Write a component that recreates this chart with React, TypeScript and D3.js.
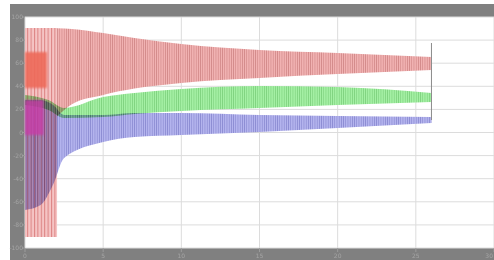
import React from 'react';
import * as d3 from 'd3';

const W = 494;
const H = 260;

const xTicks = [0, 5, 10, 15, 20, 25, 30];
const yTicks = [100, 80, 60, 40, 20, 0, -20, -40, -60, -80, -100];

// early red stripes (full swing)
const redEarlyT = [0, 2.05];
const redEarlyHi = [90.5, 90.5];
const redEarlyLo = [-90.5, -90.5];

// red signal envelope
const redT = [2.05, 3, 5, 7, 10, 15, 20, 26];
const redHi = [90.3, 89.6, 86.1, 81.8, 76.6, 71.4, 68.8, 65.4];
const redLo = [14.0, 24.5, 32.5, 38.0, 42.9, 47.2, 50.6, 54.1];

// dense red core at start
const redCoreT = [0, 1.4];
const redCoreHi = [69.7, 69.7];
const redCoreLo = [38.5, 38.5];

// green signal envelope
const greenT = [0, 1.5, 2.5, 5, 7, 10, 15, 20, 26];
const greenHi = [32.5, 28.1, 21.2, 30.7, 34.2, 37.7, 40.3, 39.4, 34.2];
const greenLo = [23.8, 19.5, 12.6, 13.4, 16.0, 18.6, 21.2, 23.8, 26.4];

// blue signal envelope
const blueT = [0, 1, 1.8, 2.5, 5, 7, 10, 15, 20, 26];
const blueHi = [28.1, 28.1, 23.8, 15.2, 15.2, 16.9, 16.9, 15.2, 14.3, 13.4];
const blueLo = [-67.1, -62.8, -45.0, -22.0, -8.2, -3.9, -2.2, 0.4, 3.9, 8.2];

// dense magenta core at start
const blueCoreT = [0, 1.2];
const blueCoreHi = [28.1, 28.1];
const blueCoreLo = [-2.2, -2.2];

// final step line
const endT = [26];
const endHi = [77.5];
const endLo = [10.8];

const PL = 25, PR = 494, PT = 17, PB = 248;

export default function App() {
  const x = d3.scaleLinear().domain([0, 30]).range([PL, PR]);
  const y = d3.scaleLinear().domain([-100, 100]).range([PB, PT]);

  const band = (T: number[], hi: number[], lo: number[], curve: d3.CurveFactory = d3.curveMonotoneX) =>
    d3
      .area<number>()
      .x((_, i) => x(T[i]))
      .y0((_, i) => y(lo[i]))
      .y1((_, i) => y(hi[i]))
      .curve(curve)(T) || '';

  const blend: React.CSSProperties = { mixBlendMode: 'multiply' };

  return (
    <div style={{ position: 'fixed', left: 0, top: 0 }}>
      <svg width={W} height={H} style={{ display: 'block' }}>
        <defs>
          <pattern id="pRedEarly" width={3.4} height={4} patternUnits="userSpaceOnUse">
            <rect width={3.4} height={4} fill="#f5c4c4" />
            <rect width={1} height={4} fill="#dc8282" />
          </pattern>
          <pattern id="pRed" width={2.2} height={4} patternUnits="userSpaceOnUse">
            <rect width={2.2} height={4} fill="#f1b2b2" />
            <rect width={0.7} height={4} fill="#d08686" />
          </pattern>
          <pattern id="pGreen" width={2.2} height={4} patternUnits="userSpaceOnUse">
            <rect width={2.2} height={4} fill="#a4f0a4" />
            <rect width={0.7} height={4} fill="#7cd07c" />
          </pattern>
          <pattern id="pBlue" width={2.2} height={4} patternUnits="userSpaceOnUse">
            <rect width={2.2} height={4} fill="#b4b4ee" />
            <rect width={0.7} height={4} fill="#8888d0" />
          </pattern>
          <filter id="soft">
            <feGaussianBlur stdDeviation="0.35" />
          </filter>
          <filter id="softer">
            <feGaussianBlur stdDeviation="0.9" />
          </filter>
        </defs>
        <rect x={0} y={0} width={W} height={H} fill="#ffffff" />
        <rect x={10} y={4} width={W - 10} height={H - 4} fill="#808080" />
        <rect x={PL} y={PT} width={PR - PL} height={PB - PT} fill="#ffffff" />

        {xTicks.map((t) => (
          <line key={'gx' + t} x1={x(t)} x2={x(t)} y1={PT} y2={PB} stroke="#dcdcdc" strokeWidth={1} />
        ))}
        {yTicks.map((t) => (
          <line key={'gy' + t} x1={PL} x2={PR} y1={y(t)} y2={y(t)} stroke="#dcdcdc" strokeWidth={1} />
        ))}

        <g filter="url(#soft)">
          <path d={band(redEarlyT, redEarlyHi, redEarlyLo, d3.curveLinear)} fill="url(#pRedEarly)" />
          <path d={band(redT, redHi, redLo)} fill="url(#pRed)" />
          <path d={band(greenT, greenHi, greenLo)} fill="url(#pGreen)" style={blend} />
          <path d={band(blueT, blueHi, blueLo)} fill="url(#pBlue)" style={blend} />
          {endT.map((t, i) => (
            <line key={'end' + i} x1={x(t)} x2={x(t)} y1={y(endHi[i])} y2={y(endLo[i])} stroke="#8a8a8a" strokeWidth={1} />
          ))}
        </g>
        <g filter="url(#softer)">
          <path d={band(redCoreT, redCoreHi, redCoreLo, d3.curveLinear)} fill="#ee6a58" opacity={0.9} style={blend} />
          <path d={band(blueCoreT, blueCoreHi, blueCoreLo, d3.curveLinear)} fill="#c83aa8" opacity={0.8} style={blend} />
        </g>

        {xTicks.map((t) => (
          <line key={'tx' + t} x1={x(t)} x2={x(t)} y1={PB} y2={PB + 4} stroke="#9c9c9c" strokeWidth={1} />
        ))}
        {yTicks.map((t) => (
          <line key={'ty' + t} x1={PL - 3} x2={PL} y1={y(t)} y2={y(t)} stroke="#9c9c9c" strokeWidth={1} />
        ))}
        <g filter="url(#soft)" fontFamily="DejaVu Sans" fontSize={6} fill="#a4a4a4">
          {xTicks.map((t, i) => (
            <text
              key={'lx' + t}
              x={i === xTicks.length - 1 ? x(t) - 1 : x(t)}
              y={PB + 10}
              textAnchor={i === xTicks.length - 1 ? 'end' : 'middle'}
            >
              {t}
            </text>
          ))}
          {yTicks.map((t) => (
            <text key={'ly' + t} x={PL - 2} y={y(t) + 2} textAnchor="end">
              {t}
            </text>
          ))}
        </g>
      </svg>
    </div>
  );
}
